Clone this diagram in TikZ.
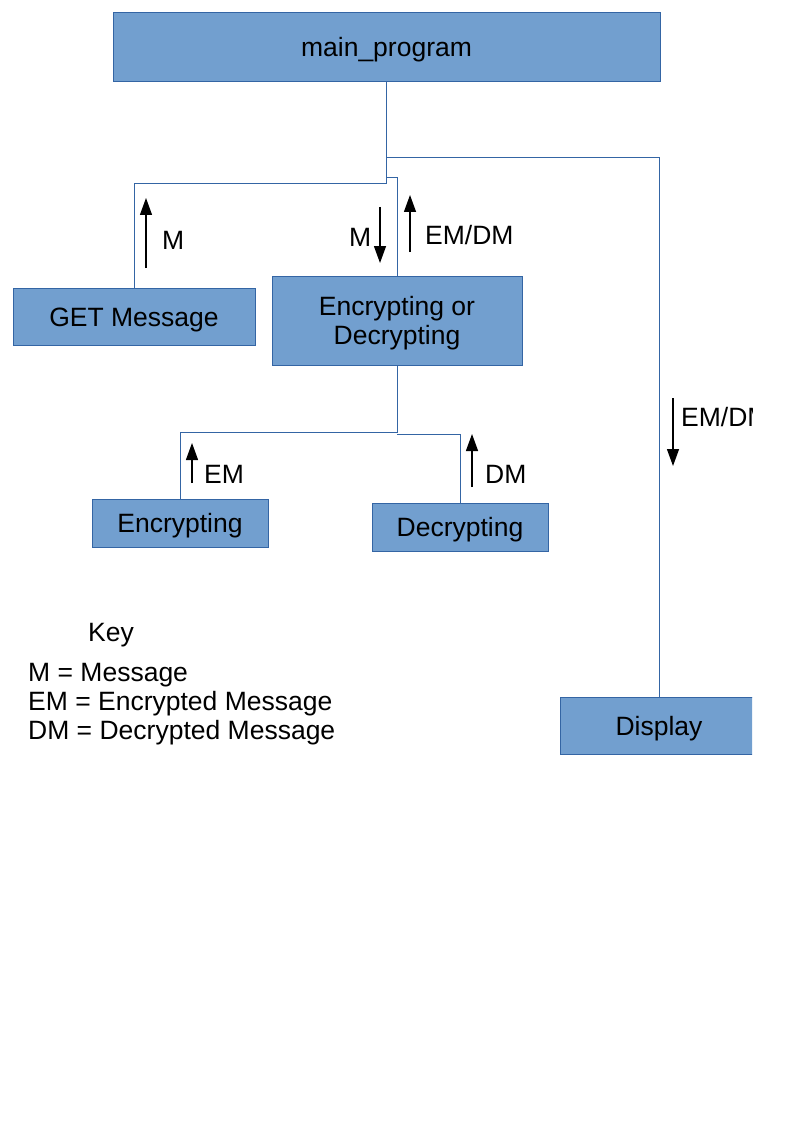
\documentclass[tikz,border=0pt]{standalone}
\usepackage{fontspec}
\setmainfont{Liberation Sans}
\usetikzlibrary{arrows.meta}
\definecolor{boxfill}{HTML}{729FCF}
\definecolor{boxline}{HTML}{3465A4}
\begin{document}
\begin{tikzpicture}[x=1pt,y=-1pt,
  box/.style={rectangle,draw=boxline,fill=boxfill,inner sep=0pt,align=center,text height=25pt,text depth=5.5pt,font=\fontsize{26.5}{29}\selectfont},
  link/.style={draw=boxline,line width=1pt},
  flow/.style={line width=1.3pt,-{Triangle[length=17pt,width=12pt]}},
  lbl/.style={anchor=base west,inner sep=0pt,font=\fontsize{26.5}{29}\selectfont}]

  \useasboundingbox (0,0) rectangle (794,1123);
  \clip (0,0) rectangle (752,1123);

  \node[box,minimum width=547pt,minimum height=69pt] (main) at (386.5,46.5){main\_program};
  \node[box,minimum width=242pt,minimum height=57pt] (get) at (134,316.5){GET Message};
  \node[box,minimum width=250pt,minimum height=89pt,text height=53pt] (encdec) at (397,320.5){Encrypting or\\Decrypting};
  \node[box,minimum width=176pt,minimum height=48pt] (enc) at (180,523){Encrypting};
  \node[box,minimum width=176pt,minimum height=48pt] (dec) at (460,527){Decrypting};
  \node[box,minimum width=198pt,minimum height=57pt] (disp) at (659,725.5){Display};

  \coordinate (j1) at (386.5,184);
  \coordinate (j2) at (386.5,178);
  \coordinate (j3) at (386.5,158);
  \coordinate (j4) at (397,432);
  \coordinate (j5) at (397,434);

  \draw[link] (main.south) -- (j1) -| (get.north);
  \draw[link] (j2) -| (encdec.north);
  \draw[link] (j3) -| (disp.north);
  \draw[link] (encdec.south) -- (j4) -| (enc.north);
  \draw[link] (j5) -| (dec.north);

  \coordinate (m1a) at (146,268);  \coordinate (m1b) at (146,198);
  \coordinate (m2a) at (380,207);  \coordinate (m2b) at (380,263);
  \coordinate (ed1a) at (410,252); \coordinate (ed1b) at (410,195);
  \coordinate (ema) at (192,483);  \coordinate (emb) at (192,443);
  \coordinate (dma) at (472,487);  \coordinate (dmb) at (472,434);
  \coordinate (ed2a) at (673,398); \coordinate (ed2b) at (673,466);

  \draw[flow] (m1a) -- (m1b);
  \draw[flow] (m2a) -- (m2b);
  \draw[flow] (ed1a) -- (ed1b);
  \draw[flow] (ema) -- (emb);
  \draw[flow] (dma) -- (dmb);
  \draw[flow] (ed2a) -- (ed2b);

  \node[lbl] (lm1) at (162,250){M};
  \node[lbl] (lm2) at (349,247){M};
  \node[lbl] (led1) at (425,244){EM/DM};
  \node[lbl] (lem) at (204,483){EM};
  \node[lbl] (ldm) at (485,483){DM};
  \node[lbl] (led2) at (681,426){EM/DM};

  \node[lbl] (key) at (88,641){Key};
  \node[lbl] (k1) at (28,681){M = Message};
  \node[lbl] (k2) at (28,710){EM = Encrypted Message};
  \node[lbl] (k3) at (28,739){DM = Decrypted Message};
\end{tikzpicture}
\end{document}
